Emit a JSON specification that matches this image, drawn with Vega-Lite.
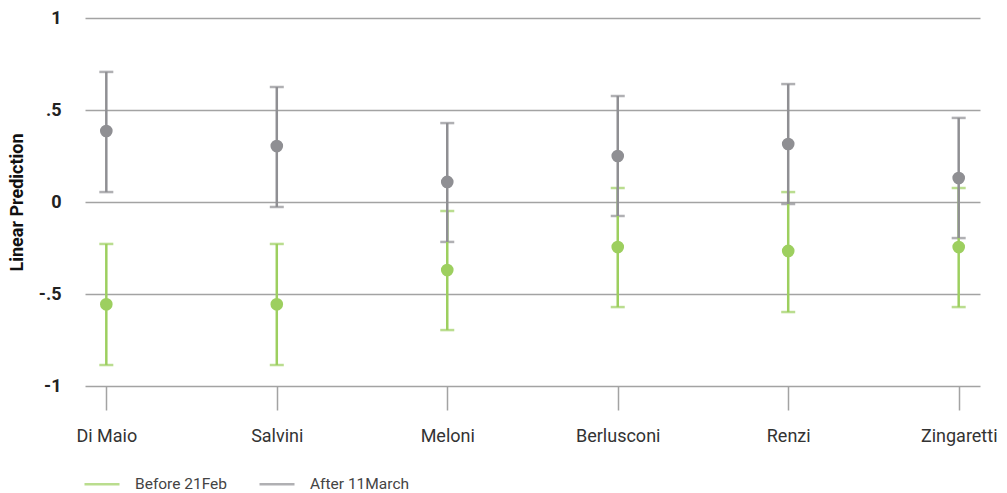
{
  "$schema": "https://vega.github.io/schema/vega-lite/v6.json",
  "width": 895,
  "height": 368,
  "autosize": {"type": "none"},
  "padding": {"left": 85, "top": 18, "right": 27, "bottom": 107},
  "background": "white",
  "config": {
    "view": {"stroke": null},
    "font": "Roboto",
    "axis": {"gridColor": "#a3a3a3", "gridWidth": 1.5, "gridOpacity": 1}
  },
  "data": {
    "values": [
      {"name": "Di Maio", "group": "Before 21Feb", "est": -0.556, "lo": -0.886, "hi": -0.228},
      {"name": "Salvini", "group": "Before 21Feb", "est": -0.556, "lo": -0.886, "hi": -0.228},
      {"name": "Meloni", "group": "Before 21Feb", "est": -0.37, "lo": -0.696, "hi": -0.049},
      {"name": "Berlusconi", "group": "Before 21Feb", "est": -0.245, "lo": -0.571, "hi": 0.076},
      {"name": "Renzi", "group": "Before 21Feb", "est": -0.266, "lo": -0.598, "hi": 0.054},
      {"name": "Zingaretti", "group": "Before 21Feb", "est": -0.245, "lo": -0.571, "hi": 0.076},
      {"name": "Di Maio", "group": "After 11March", "est": 0.386, "lo": 0.054, "hi": 0.707},
      {"name": "Salvini", "group": "After 11March", "est": 0.304, "lo": -0.027, "hi": 0.625},
      {"name": "Meloni", "group": "After 11March", "est": 0.109, "lo": -0.217, "hi": 0.429},
      {"name": "Berlusconi", "group": "After 11March", "est": 0.25, "lo": -0.076, "hi": 0.576},
      {"name": "Renzi", "group": "After 11March", "est": 0.315, "lo": -0.011, "hi": 0.641},
      {"name": "Zingaretti", "group": "After 11March", "est": 0.13, "lo": -0.196, "hi": 0.457}
    ]
  },
  "encoding": {
    "x": {
      "field": "name",
      "type": "nominal",
      "sort": null,
      "scale": {"type": "point", "padding": 0.125},
      "axis": {
        "title": null,
        "labelAngle": 0,
        "domain": false,
        "grid": false,
        "ticks": true,
        "tickSize": 24,
        "tickColor": "#a3a3a3",
        "tickWidth": 1.5,
        "labelPadding": 17,
        "labelFontSize": 18,
        "labelColor": "#333333",
        "labelFont": "Roboto"
      }
    },
    "color": {
      "field": "group",
      "type": "nominal",
      "sort": null,
      "scale": {"domain": ["Before 21Feb", "After 11March"], "range": ["#9dcf5f", "#8f8f93"]},
      "legend": {
        "title": null,
        "orient": "none",
        "direction": "horizontal",
        "legendX": -2,
        "legendY": 447,
        "symbolType": "stroke",
        "symbolSize": 1225,
        "symbolStrokeWidth": 2.5,
        "labelFontSize": 15.5,
        "labelColor": "#444444",
        "labelFont": "Roboto",
        "columnPadding": 26,
        "labelOffset": 14
      }
    }
  },
  "layer": [
    {
      "mark": {"type": "tick", "thickness": 2.5, "size": 14, "orient": "horizontal"},
      "encoding": {
        "y": {
          "field": "hi",
          "type": "quantitative",
          "scale": {"domain": [-1, 1]},
          "axis": {
            "title": "Linear Prediction",
            "values": [-1, -0.5, 0, 0.5, 1],
            "labelExpr": "datum.value == 0.5 ? '.5' : datum.value == -0.5 ? '-.5' : datum.value == 1 ? '1' : datum.value == -1 ? '-1' : '0'",
            "domain": false,
            "ticks": false,
            "grid": true,
            "labelPadding": 24,
            "labelFontSize": 18,
            "labelFontWeight": "bold",
            "labelColor": "#222222",
            "titleFontSize": 18,
            "titleFontWeight": "bold",
            "titleColor": "#111111",
            "titlePadding": 12
          }
        }
      }
    },
    {
      "mark": {"type": "tick", "thickness": 2.5, "size": 14, "orient": "horizontal"},
      "encoding": {"y": {"field": "lo", "type": "quantitative"}}
    },
    {
      "mark": {"type": "rule", "strokeWidth": 2.5},
      "encoding": {
        "y": {"field": "lo", "type": "quantitative"},
        "y2": {"field": "hi"}
      }
    },
    {
      "mark": {"type": "point", "filled": true, "opacity": 1, "size": 160},
      "encoding": {"y": {"field": "est", "type": "quantitative"}}
    }
  ]
}
